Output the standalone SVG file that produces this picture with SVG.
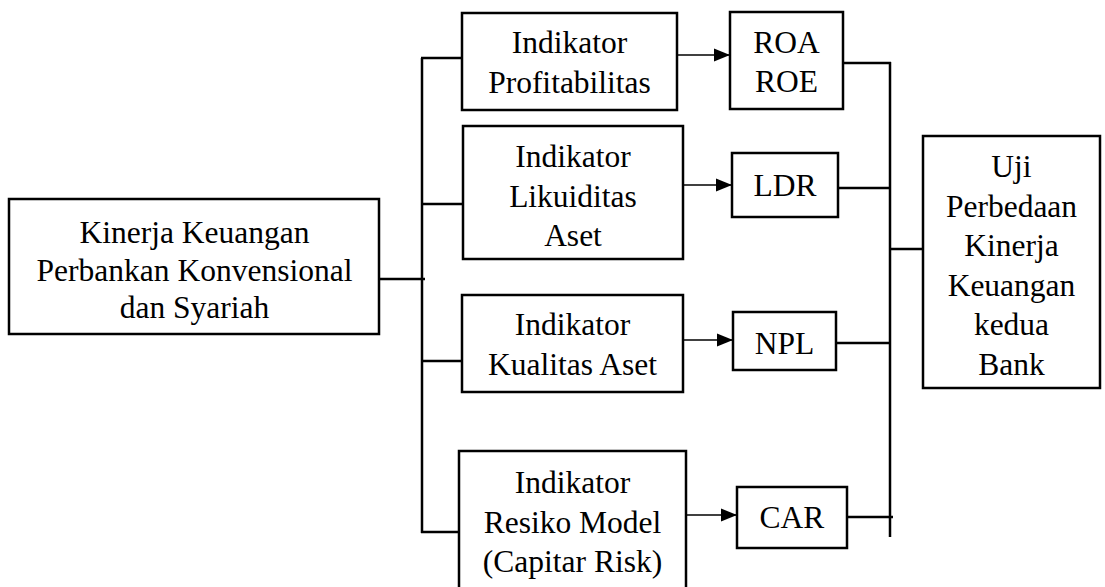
<svg xmlns="http://www.w3.org/2000/svg" width="1105" height="587" viewBox="0 0 1105 587">
<style>
.box{fill:#fff;stroke:#000;stroke-width:2.5}
.t{font-family:"Liberation Serif","Times New Roman",serif;font-size:31.5px;fill:#000;text-anchor:middle}
.ln{stroke:#000;stroke-width:2.5;fill:none}
.ar{stroke:#000;stroke-width:1.4;fill:none;marker-end:url(#ah)}
</style>
<defs>
<marker id="ah" markerUnits="userSpaceOnUse" markerWidth="18" markerHeight="16" refX="16" refY="7" orient="auto">
<path d="M0,0.5 L16,7 L0,13.5 z" fill="#000"/>
</marker>
</defs>
<rect width="1105" height="587" fill="#fff"/>
<g id="connectors">
<line class="ln" x1="422" y1="58" x2="422" y2="533"/>
<line class="ln" x1="421" y1="58" x2="462" y2="58"/>
<line class="ln" x1="422" y1="204" x2="463" y2="204"/>
<line class="ln" x1="379" y1="279" x2="425" y2="279"/>
<line class="ln" x1="422" y1="361" x2="462" y2="361"/>
<line class="ln" x1="421" y1="532" x2="459" y2="532"/>
<line class="ar" x1="677" y1="55" x2="730" y2="55"/>
<line class="ar" x1="683" y1="185" x2="732" y2="185"/>
<line class="ar" x1="683" y1="340" x2="733" y2="340"/>
<line class="ar" x1="686" y1="515" x2="737" y2="515"/>
<line class="ln" x1="890" y1="62" x2="890" y2="537"/>
<line class="ln" x1="843" y1="63" x2="891" y2="63"/>
<line class="ln" x1="838" y1="188" x2="890" y2="188"/>
<line class="ln" x1="836" y1="343" x2="890" y2="343"/>
<line class="ln" x1="847" y1="517" x2="893" y2="517"/>
<line class="ln" x1="890" y1="249" x2="923" y2="249"/>
</g>
<g id="n-kinerja">
<rect class="box" x="9" y="199" width="370" height="135"/>
<text class="t" x="194.5" y="243">Kinerja Keuangan</text>
<text class="t" x="194.5" y="281">Perbankan Konvensional</text>
<text class="t" x="194.5" y="318">dan Syariah</text>
</g>
<g id="n-profit">
<rect class="box" x="462" y="13" width="215" height="97"/>
<text class="t" x="569.5" y="53">Indikator</text>
<text class="t" x="569.5" y="93">Profitabilitas</text>
</g>
<g id="n-likuid">
<rect class="box" x="463" y="126" width="220" height="133"/>
<text class="t" x="573" y="167">Indikator</text>
<text class="t" x="573" y="207">Likuiditas</text>
<text class="t" x="573" y="246">Aset</text>
</g>
<g id="n-kualitas">
<rect class="box" x="462" y="295" width="221" height="97"/>
<text class="t" x="572.5" y="335">Indikator</text>
<text class="t" x="572.5" y="375">Kualitas Aset</text>
</g>
<g id="n-resiko">
<rect class="box" x="459" y="451" width="227" height="145"/>
<text class="t" x="572.5" y="493">Indikator</text>
<text class="t" x="572.5" y="533">Resiko Model</text>
<text class="t" x="572.5" y="572">(Capitar Risk)</text>
</g>
<g id="n-roa">
<rect class="box" x="730" y="12" width="113" height="97"/>
<text class="t" x="786.5" y="53">ROA</text>
<text class="t" x="786.5" y="92">ROE</text>
</g>
<g id="n-ldr">
<rect class="box" x="732" y="153" width="106" height="64"/>
<text class="t" x="785" y="196">LDR</text>
</g>
<g id="n-npl">
<rect class="box" x="733" y="312" width="103" height="58"/>
<text class="t" x="784.5" y="354">NPL</text>
</g>
<g id="n-car">
<rect class="box" x="737" y="487" width="110" height="61"/>
<text class="t" x="792" y="528">CAR</text>
</g>
<g id="n-uji">
<rect class="box" x="923" y="136" width="177" height="252"/>
<text class="t" x="1011.5" y="177">Uji</text>
<text class="t" x="1011.5" y="217">Perbedaan</text>
<text class="t" x="1011.5" y="256">Kinerja</text>
<text class="t" x="1011.5" y="296">Keuangan</text>
<text class="t" x="1011.5" y="335">kedua</text>
<text class="t" x="1011.5" y="375">Bank</text>
</g>
</svg>
